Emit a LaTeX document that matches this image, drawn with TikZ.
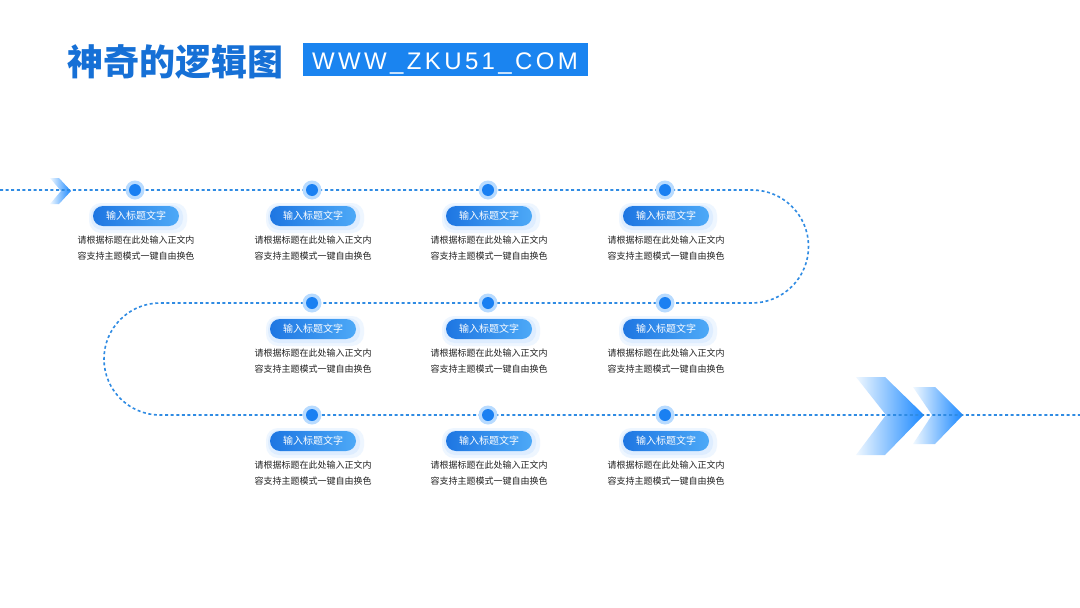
\documentclass[tikz,border=0pt]{standalone}
\usepackage{fontspec}
\newfontfamily\cjk{Noto Sans CJK SC}
\newfontfamily\urlfont{Liberation Sans}[LetterSpace=14]
\definecolor{mainblue}{HTML}{1A84F0}
\definecolor{titleblue}{HTML}{1670D6}
\definecolor{lineblue}{HTML}{2F8BE3}
\definecolor{dotblue}{HTML}{1A80F2}
\definecolor{halo}{HTML}{B8DBFF}
\definecolor{pillL}{HTML}{1E76E2}
\definecolor{pillR}{HTML}{4DA9F7}
\definecolor{glow}{HTML}{CFE6FF}
\definecolor{chevL}{HTML}{F0F8FF}
\definecolor{chevR}{HTML}{1A88FF}
\definecolor{bodytext}{HTML}{222222}
\tikzset{
  flowline/.style={draw=lineblue, line width=1.6pt, dash pattern=on 3pt off 2.6pt},
  dothalo/.style={circle, fill=halo, minimum size=19pt, inner sep=0pt},
  dotcore/.style={circle, fill=dotblue, minimum size=12pt, inner sep=0pt},
  pillglow/.style={rounded corners=12pt, fill=glow, opacity=0.35, minimum width=98pt, minimum height=30pt},
  pillglowin/.style={rounded corners=11pt, fill=glow, opacity=0.5, minimum width=92pt, minimum height=25pt},
  pill/.style={rounded corners=10pt, left color=pillL, right color=pillR, minimum width=86pt, minimum height=20pt, inner sep=0pt, text=white, font=\cjk\fontsize{10}{12}\selectfont},
  desc/.style={align=center, text=bodytext, font=\cjk\fontsize{9}{16.5}\selectfont, inner sep=0pt},
}
\newcommand{\stepitem}[3]{%
  \node[dothalo] (h#3) at (#1,#2) {};
  \node[dotcore] (d#3) at (#1,#2) {};
  \node[pillglow] (g#3) at (#1+3,#2+28) {};
  \node[pillglowin] (gi#3) at (#1+2,#2+27.5) {};
  \node[pill] (p#3) at (#1+1,#2+26) {输入标题文字};
  \node[desc, below=9pt of p#3] (t#3) {请根据标题在此处输入正文内\\容支持主题模式一键自由换色};
}
\usetikzlibrary{positioning}
\begin{document}
\begin{tikzpicture}[x=1pt,y=-1pt]
\useasboundingbox (0,0) rectangle (1080,608);
\fill[white] (0,0) rectangle (1080,608);
% title
\node[anchor=west, inner sep=0pt, text=titleblue, font=\cjk\bfseries\fontsize{36}{38}\selectfont] (title) at (67,62) {神奇的逻辑图};
\fill[mainblue] (303,43) rectangle (588,76);
\node[anchor=base west, inner sep=0pt, text=white, font=\urlfont\fontsize{24}{26}\selectfont] (url) at (312,69) {WWW\_ZKU51\_COM};
% small chevron
\shade[left color=chevL, right color=chevR] (50,178) -- (59,178) -- (71,191) -- (59,204) -- (50,204) -- (61,191) -- cycle;
% big chevrons
\shade[left color=chevL, right color=chevR] (856,377) -- (885,377) -- (924,415) -- (885,455) -- (856,455) -- (886,415) -- cycle;
\shade[left color=chevL, right color=chevR] (913,387) -- (935,387) -- (963,415) -- (935,444) -- (913,444) -- (932,415) -- cycle;
% path
\coordinate (s) at (0,190);
\coordinate (e) at (1080,415);
\path[flowline] (s) -- (752,190) arc[start angle=-90, end angle=90, radius=56.5] -- (160,303) arc[start angle=-90, end angle=-270, radius=56] -- (e);
% items
\stepitem{135}{190}{a}
\stepitem{312}{190}{b}
\stepitem{488}{190}{c}
\stepitem{665}{190}{d}
\stepitem{312}{303}{e}
\stepitem{488}{303}{f}
\stepitem{665}{303}{g}
\stepitem{312}{415}{h}
\stepitem{488}{415}{i}
\stepitem{665}{415}{j}
\end{tikzpicture}
\end{document}
